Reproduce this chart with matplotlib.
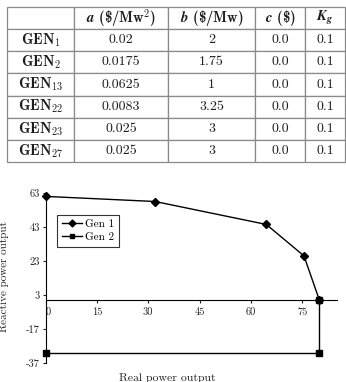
import matplotlib
matplotlib.use("Agg")
import matplotlib.pyplot as plt

plt.rcParams["font.family"] = "cmr10"
plt.rcParams["mathtext.fontset"] = "cm"
plt.rcParams["axes.unicode_minus"] = False

# table data
headers = [r"$\boldsymbol{a}$ (\$/Mw$^\mathbf{2}$)", r"$\boldsymbol{b}$ (\$/Mw)",
           r"$\boldsymbol{c}$ (\$)", r"$\boldsymbol{K}_{\boldsymbol{g}}$"]
gens = [r"GEN$_\mathbf{1}$", r"GEN$_\mathbf{2}$", r"GEN$_\mathbf{13}$",
        r"GEN$_\mathbf{22}$", r"GEN$_\mathbf{23}$", r"GEN$_\mathbf{27}$"]
a_vals = ["0.02", "0.0175", "0.0625", "0.0083", "0.025", "0.025"]
b_vals = ["2", "1.75", "1", "3.25", "3", "3"]
c_vals = ["0.0"] * 6
kg_vals = ["0.1"] * 6

# capability curves
gen1_p = [0, 32, 64.5, 75.5, 80]
gen1_q = [61, 58, 44.5, 26, 0]
gen2_p = [80, 80, 0]
gen2_q = [0, -31, -31]

xticks = [0, 15, 30, 45, 60, 75]
yticks = [63, 43, 23, 3, -17, -37]

fig = plt.figure(figsize=(3.46, 3.82), dpi=100)

# ---- table ----
tax = fig.add_axes([7 / 346, 1 - 162 / 382, 338 / 346, 155 / 382])
tax.axis("off")
cell_text = [[""] + headers]
for row in zip(gens, a_vals, b_vals, c_vals, kg_vals):
    cell_text.append(list(row))
widths = [67, 94, 87, 50, 40]
tbl = tax.table(cellText=cell_text, colWidths=[w / sum(widths) for w in widths],
                cellLoc="center", bbox=[0, 0, 1, 1])
tbl.auto_set_font_size(False)
for (r, c), cell in tbl.get_celld().items():
    cell.set_edgecolor("#8a8a8a")
    cell.set_linewidth(0.9)
    txt = cell.get_text()
    txt.set_fontsize(10)
    txt.set_color("#1e1e1e")
    if r == 0 or c == 0:
        txt.set_fontfamily("cmb10")
        txt.set_fontsize(10.5)

# ---- chart ----
ax = fig.add_axes([45.5 / 346, 1 - 363 / 382, 291 / 346, 170 / 382])
ax.plot(gen1_p, gen1_q, color="black", lw=1.0, marker="D", ms=4, label="Gen 1", clip_on=False)
ax.plot(gen2_p, gen2_q, color="black", lw=1.0, marker="s", ms=4, label="Gen 2", clip_on=False)

ax.set_xlim(0, 85)
ax.set_ylim(-37, 63)
ax.set_xticks(xticks)
ax.set_yticks(yticks)
ax.spines["top"].set_visible(False)
ax.spines["right"].set_visible(False)
ax.spines["bottom"].set_position(("data", 0))
ax.tick_params(direction="out", length=2, width=0.8, labelsize=7.5, pad=2, colors="#222222")
ax.tick_params(axis="x", pad=3)
ax.get_xticklabels()[0].set_horizontalalignment("left")

ax.set_xlabel("Real power output", fontsize=8.5, color="#222222")
ax.xaxis.set_label_coords(0.42, -0.06)
ax.set_ylabel("Reactive power output", fontsize=8, color="#222222")
ax.yaxis.set_label_coords(-0.125, 0.51)

leg = ax.legend(loc="upper left", bbox_to_anchor=(0.04, 0.871), borderaxespad=0, fontsize=8,
                fancybox=False, edgecolor="#333333", framealpha=1, handlelength=1.8,
                borderpad=0.4, labelspacing=0.3, handletextpad=0.35)
leg.get_frame().set_linewidth(0.8)
for h in leg.legend_handles:
    h.set_markersize(3.5)

fig.savefig("out.png", dpi=100)
